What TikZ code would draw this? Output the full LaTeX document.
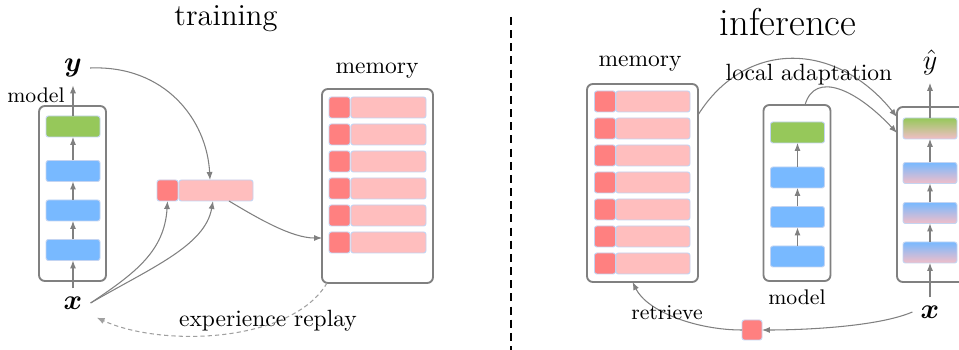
\documentclass[tikz,border=0pt]{standalone}
\usepackage{amsmath,bm}
\usetikzlibrary{arrows.meta,calc}
\definecolor{lgreen}{RGB}{150,200,90}
\definecolor{lblue}{RGB}{120,185,255}
\definecolor{lpink}{RGB}{255,190,190}
\definecolor{lred}{RGB}{255,128,128}
\definecolor{celledge}{RGB}{195,212,242}
\definecolor{boxgray}{RGB}{128,128,128}
\definecolor{gradpink}{RGB}{242,190,200}
\newcommand\pxl{0.4255pt}
\begin{document}
\begin{tikzpicture}[x=0.4255pt,y=-0.4255pt,
  layer/.style={draw=celledge,line width=0.4pt,rounded corners=1pt,inner sep=0pt,outer sep=0pt,minimum width=54*\pxl,minimum height=21*\pxl},
  greenlayer/.style={layer,fill=lgreen},
  bluelayer/.style={layer,fill=lblue},
  mixgreen/.style={layer,top color=lgreen,bottom color=gradpink},
  mixblue/.style={layer,top color=lblue,bottom color=gradpink},
  keycell/.style={layer,fill=lred,minimum width=21*\pxl},
  valcell/.style={layer,fill=lpink,minimum width=74*\pxl},
  modelbox/.style={draw=boxgray,line width=0.8pt,rounded corners=2.5pt,inner sep=0pt,outer sep=0pt,minimum width=67*\pxl,minimum height=175*\pxl},
  membox/.style={modelbox,minimum width=111*\pxl,minimum height=196*\pxl},
  flow/.style={draw=boxgray,line width=0.45pt,-{Latex[length=3.4pt,width=2.6pt]}},
  replay/.style={draw=boxgray!75,line width=0.45pt,dash pattern=on 1.8pt off 1.3pt,-{Latex[length=3.4pt,width=2.6pt]}},
  divider/.style={draw=black,line width=0.6pt,dash pattern=on 3.4pt off 2.2pt}]
\useasboundingbox (0,0) rectangle (959,350);

% titles and divider
\node[font=\fontsize{13}{15}\selectfont] (ttrain) at (226,19) {training};
\node[font=\fontsize{16.5}{19}\selectfont] (tinf) at (788,22) {inference};
\coordinate (dtop) at (511,17);
\coordinate (dbot) at (511,352);
\draw[divider] (dtop) -- (dbot);

% ---------------- training: model ----------------
\node[modelbox] (lbox) at (72.5,193.5) {};
\node[greenlayer] (lg) at (73,126.5) {};
\node[bluelayer] (lb1) at (73,171) {};
\node[bluelayer] (lb2) at (73,210.5) {};
\node[bluelayer] (lb3) at (73,250) {};
\node[font=\large] (ly) at (73,68) {$\bm{y}$};
\node[font=\large] (lx) at (73,303) {$\bm{x}$};
\node[font=\small] (lmodel) at (36,95) {model};
\draw[flow] (lx) -- (lb3);
\draw[flow] (lb3) -- (lb2);
\draw[flow] (lb2) -- (lb1);
\draw[flow] (lb1) -- (lg);
\draw[flow] (lg) -- (ly);

% training: current record
\node[keycell] (tk) at (167.5,190.5) {};
\node[valcell] (tv) at (216,190.5) {};

% training: memory
\node[membox,minimum height=194*\pxl] (tmem) at (377.5,186) {};
\foreach \i in {0,...,5} {
  \node[keycell] (tmk\i) at (339.5,{107.5+27*\i}) {};
  \node[valcell,minimum width=75*\pxl] (tmv\i) at (388.5,{107.5+27*\i}) {};
}
\node (tmlabel) at (377,71) {memory};

% training connectors
\draw[flow] (ly.east) .. controls +(75,-3) and +(-3,-60) .. ($(tv.north)+(-6,0)$);
\draw[flow] (lx.east) .. controls +(45,-30) and +(-3,50) .. (tk.south);
\draw[flow] (lx.east) .. controls +(60,-35) and +(-8,45) .. ($(tv.south)+(-3,0)$);
\draw[flow] ($(tv.south)+(13,0)$) .. controls +(30,18) and +(-30,0) .. ($(tmem.west)+(0,52)$);
\draw[replay] ($(tmem.south west)+(5,0)$) .. controls +(-35,60) and +(65,30) .. ($(lx.south east)+(6,0)$);
\node (trep) at (268,321) {experience replay};

% ---------------- inference: memory ----------------
\node[membox,minimum height=198*\pxl] (imem) at (642.5,183) {};
\foreach \i in {0,...,6} {
  \node[keycell] (imk\i) at (605,{101.5+27*\i}) {};
  \node[valcell] (imv\i) at (653,{101.5+27*\i}) {};
}
\node (imlabel) at (640,64) {memory};

% inference: base model
\node[modelbox,minimum height=176*\pxl] (imodel) at (797,193) {};
\node[greenlayer] (ig) at (797.5,132.5) {};
\node[bluelayer] (ib1) at (797.5,177.5) {};
\node[bluelayer] (ib2) at (797.5,217) {};
\node[bluelayer] (ib3) at (797.5,256.5) {};
\draw[flow] (ib3) -- (ib2);
\draw[flow] (ib2) -- (ib1);
\draw[flow] (ib1) -- (ig);
\node[font=\small] (imlab) at (797,297) {model};

% inference: adapted model
\node[modelbox,minimum width=68*\pxl] (rbox) at (931,194.5) {};
\node[mixgreen] (rl1) at (930,128.5) {};
\node[mixblue] (rl2) at (930,173) {};
\node[mixblue] (rl3) at (930,213) {};
\node[mixblue] (rl4) at (930,252.5) {};
\node[font=\large] (ryhat) at (930,62) {$\hat{y}$};
\node[font=\large] (rx) at (930,312) {$\bm{x}$};
\draw[flow] (rx) -- (rl4);
\draw[flow] (rl4) -- (rl3);
\draw[flow] (rl3) -- (rl2);
\draw[flow] (rl2) -- (rl1);
\draw[flow] (rl1) -- (ryhat);

% retrieval key
\node[keycell,minimum width=20*\pxl,minimum height=20*\pxl] (rq) at (752,330) {};

% inference connectors
\draw[flow] ($(imem.east)+(0,-68)$) .. controls +(47,-75) and +(-62,-77) .. ($(rbox.west)+(0,-77.5)$);
\draw[flow] ($(imodel.north)+(8,0)$) .. controls +(10,-35) and +(-40,-43) .. ($(rbox.west)+(0,-61.5)$);
\draw[flow] (rx.west) .. controls +(-35,15) and +(40,0) .. (rq.east);
\draw[flow] (rq.west) .. controls +(-45,0) and +(15,30) .. ($(imem.south)+(-10,0)$);
\node (ladapt) at (809,75) {local adaptation};
\node[font=\small] (iret) at (667,313) {retrieve};
\end{tikzpicture}
\end{document}
